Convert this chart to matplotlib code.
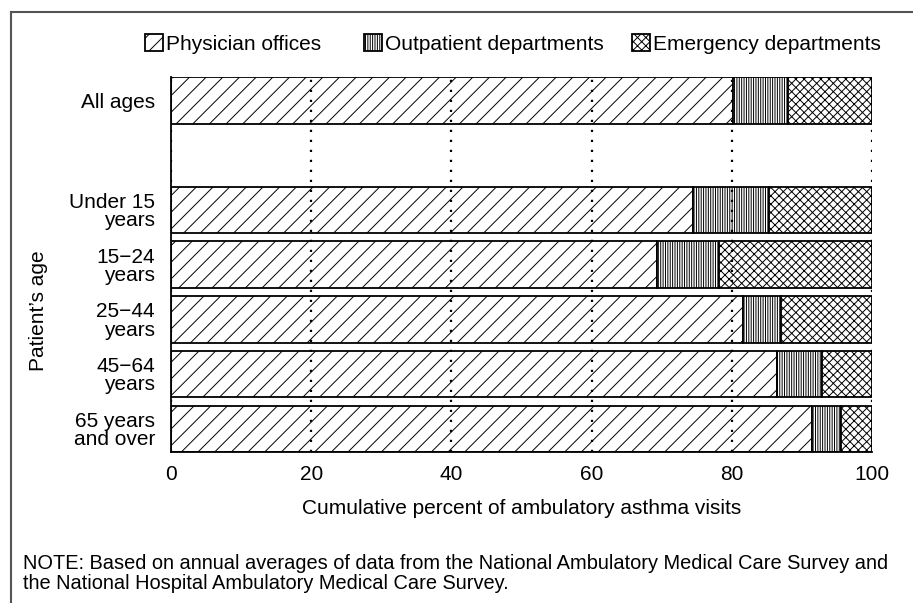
import matplotlib
matplotlib.use("Agg")
import matplotlib.pyplot as plt
from matplotlib.lines import Line2D
import numpy as np

plt.rcParams['font.family'] = ['Liberation Sans', 'DejaVu Sans']
plt.rcParams['hatch.linewidth'] = 0.7

# cumulative percent of ambulatory asthma visits by setting
ages = ['All ages', '', 'Under 15\nyears', '15\u221224\nyears', '25\u221244\nyears',
        '45\u221264\nyears', '65 years\nand over']
physician = [80.2, None, 74.5, 69.3, 81.6, 86.4, 91.4]
outpatient = [7.8, None, 10.8, 8.9, 5.4, 6.4, 4.2]
emergency = [12.0, None, 14.7, 21.8, 13.0, 7.2, 4.4]
series = ['Physician offices', 'Outpatient departments', 'Emergency departments']
hatches = ['//', '|||||||', 'xxxx']

FS = 15

fig = plt.figure(figsize=(9.13, 6.03), dpi=100)
ax = fig.add_axes([0.1873, 0.2501, 0.7678, 0.6217])

idx = [i for i, v in enumerate(physician) if v is not None]
pos = np.array(idx)
left = np.zeros(len(idx))
bars = []
for vals, h, name in zip([physician, outpatient, emergency], hatches, series):
    v = np.array([vals[i] for i in idx])
    b = ax.barh(pos, v, left=left, height=0.853, color='white', edgecolor='black',
                linewidth=1.3, hatch=h, label=name)
    bars.append(b)
    left = left + v

ax.set_xlim(0, 100)
ax.set_ylim(6.4265, -0.4265)
ax.set_yticks(range(len(ages)))
ax.set_yticklabels(ages, fontsize=FS, linespacing=0.95)
ax.set_xticks([0, 20, 40, 60, 80, 100])
ax.tick_params(axis='both', length=0, labelsize=FS)
ax.tick_params(axis='x', pad=9)
ax.tick_params(axis='y', pad=11.5)
for t in ax.get_yticklabels():
    t.set_multialignment('right')

ax.set_axisbelow(False)
ax.xaxis.grid(True, color='black', linestyle=(0, (1, 3.5)), linewidth=1.6)
ax.yaxis.grid(False)
for s in ['top', 'right']:
    ax.spines[s].set_visible(False)
ax.spines['left'].set_linewidth(1.3)
ax.spines['bottom'].set_linewidth(1.3)

ax.set_xlabel('Cumulative percent of ambulatory asthma visits', fontsize=FS, labelpad=11)
fig.text(38 / 913, 1 - 311 / 603, 'Patient\u2019s age', rotation=90, fontsize=FS,
         ha='center', va='center')

# legend, one entry at a time so the spacing matches
leg_x = [145, 364, 632]
for b, name, x in zip(bars, series, leg_x):
    fig.legend([b], [name], loc='center left', bbox_to_anchor=(x / 913, 1 - 44 / 603),
               frameon=False, fontsize=FS, handlelength=0.85, handleheight=0.85,
               handletextpad=0.15, borderpad=0, borderaxespad=0)

fig.text(23 / 913, 1 - 573.5 / 603,
         'NOTE: Based on annual averages of data from the National Ambulatory Medical Care Survey and\n'
         'the National Hospital Ambulatory Medical Care Survey.',
         fontsize=14.4, ha='left', va='center', linespacing=1.05)

# outer frame (only top and left edges show)
fig.add_artist(Line2D([11 / 913, 11 / 913], [0, 1 - 12 / 603], transform=fig.transFigure,
                      color='#555555', linewidth=1.5))
fig.add_artist(Line2D([11 / 913, 1], [1 - 12 / 603, 1 - 12 / 603], transform=fig.transFigure,
                      color='#555555', linewidth=1.5))

fig.savefig('out.png', dpi=100)
